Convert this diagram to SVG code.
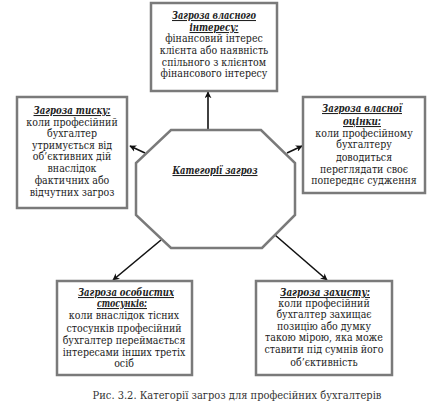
<svg xmlns="http://www.w3.org/2000/svg" width="431" height="409" viewBox="0 0 431 409">
<defs>
<marker id="ah" viewBox="0 0 10 10" refX="9" refY="5" markerWidth="7" markerHeight="7" orient="auto" markerUnits="userSpaceOnUse">
<path d="M0,0 L10,5 L0,10 L3,5 Z" fill="#111"/>
</marker>
<style>
.box{fill:#fff;stroke:#7a7a7a;stroke-width:2.5}
.oct{fill:#fff;stroke:#7a7a7a;stroke-width:2.5}
.t{font-family:"DejaVu Serif Condensed","DejaVu Serif",serif;font-stretch:condensed;font-size:10.5px;fill:#222;text-anchor:middle}
.h{font-weight:bold;font-style:italic;text-decoration:underline}
.con{stroke:#111;stroke-width:1.6;fill:none;marker-end:url(#ah)}
.cap{font-family:"DejaVu Serif Condensed","DejaVu Serif",serif;font-stretch:condensed;font-size:11px;fill:#333;text-anchor:middle}
</style>
</defs>
<rect width="431" height="409" fill="#fff"/>
<g id="connectors">
<line class="con" x1="208" y1="130" x2="208" y2="92"/>
<line class="con" x1="145" y1="153" x2="130" y2="146"/>
<line class="con" x1="287" y1="153" x2="302" y2="146"/>
<line class="con" x1="161" y1="240" x2="113" y2="280"/>
<line class="con" x1="275" y1="235" x2="327" y2="280"/>
</g>
<g id="center">
<polygon class="oct" points="171,130 261,130 295,163 295,215 262,248 171,248 136,215 136,163"/>
<text class="t h" x="215" y="174" textLength="85" lengthAdjust="spacingAndGlyphs">Категорії загроз</text>
</g>
<g id="top" class="t">
<rect class="box" x="151" y="3" width="126" height="88"/>
<text class="h" x="214" y="19" textLength="84" lengthAdjust="spacingAndGlyphs">Загроза власного</text>
<text class="h" x="214" y="31" textLength="49" lengthAdjust="spacingAndGlyphs">інтересу:</text>
<text x="214" y="42">фінансовий інтерес</text>
<text x="214" y="54">клієнта або наявність</text>
<text x="214" y="66">спільного з клієнтом</text>
<text x="214" y="77">фінансового інтересу</text>
</g>
<g id="left" class="t">
<rect class="box" x="17" y="97" width="110" height="111"/>
<text class="h" x="72" y="114" textLength="77" lengthAdjust="spacingAndGlyphs">Загроза тиску:</text>
<text x="72" y="126">коли професійний</text>
<text x="72" y="137">бухгалтер</text>
<text x="72" y="149">утримується від</text>
<text x="72" y="160">об’єктивних дій</text>
<text x="72" y="172">внаслідок</text>
<text x="72" y="184">фактичних або</text>
<text x="72" y="196">відчутних загроз</text>
</g>
<g id="right" class="t">
<rect class="box" x="303" y="97" width="122" height="96"/>
<text class="h" x="362" y="112" textLength="80" lengthAdjust="spacingAndGlyphs">Загроза власної</text>
<text class="h" x="362" y="125" textLength="38" lengthAdjust="spacingAndGlyphs">оцінки:</text>
<text x="364" y="137">коли професійному</text>
<text x="364" y="148">бухгалтеру</text>
<text x="364" y="161">доводиться</text>
<text x="364" y="173">переглядати своє</text>
<text x="364" y="184">попереднє судження</text>
</g>
<g id="bottom-left" class="t">
<rect class="box" x="57" y="281" width="135" height="94"/>
<text class="h" x="126" y="296" textLength="96" lengthAdjust="spacingAndGlyphs">Загроза особистих</text>
<text class="h" x="122" y="307" textLength="50" lengthAdjust="spacingAndGlyphs">стосунків:</text>
<text x="124" y="319">коли внаслідок тісних</text>
<text x="124" y="332">стосунків професійний</text>
<text x="124" y="344">бухгалтер переймається</text>
<text x="124" y="356">інтересами інших третіх</text>
<text x="124" y="367">осіб</text>
</g>
<g id="bottom-right" class="t">
<rect class="box" x="256" y="281" width="136" height="94"/>
<text class="h" x="325" y="296" textLength="90" lengthAdjust="spacingAndGlyphs">Загроза захисту:</text>
<text x="324" y="307">коли професійний</text>
<text x="324" y="318">бухгалтер захищає</text>
<text x="324" y="330">позицію або думку</text>
<text x="324" y="341">такою мірою, яка може</text>
<text x="324" y="353">ставити під сумнів його</text>
<text x="324" y="366">об’єктивність</text>
</g>
<text class="cap" x="237" y="399">Рис. 3.2. Категорії загроз для професійних бухгалтерів</text>
</svg>
